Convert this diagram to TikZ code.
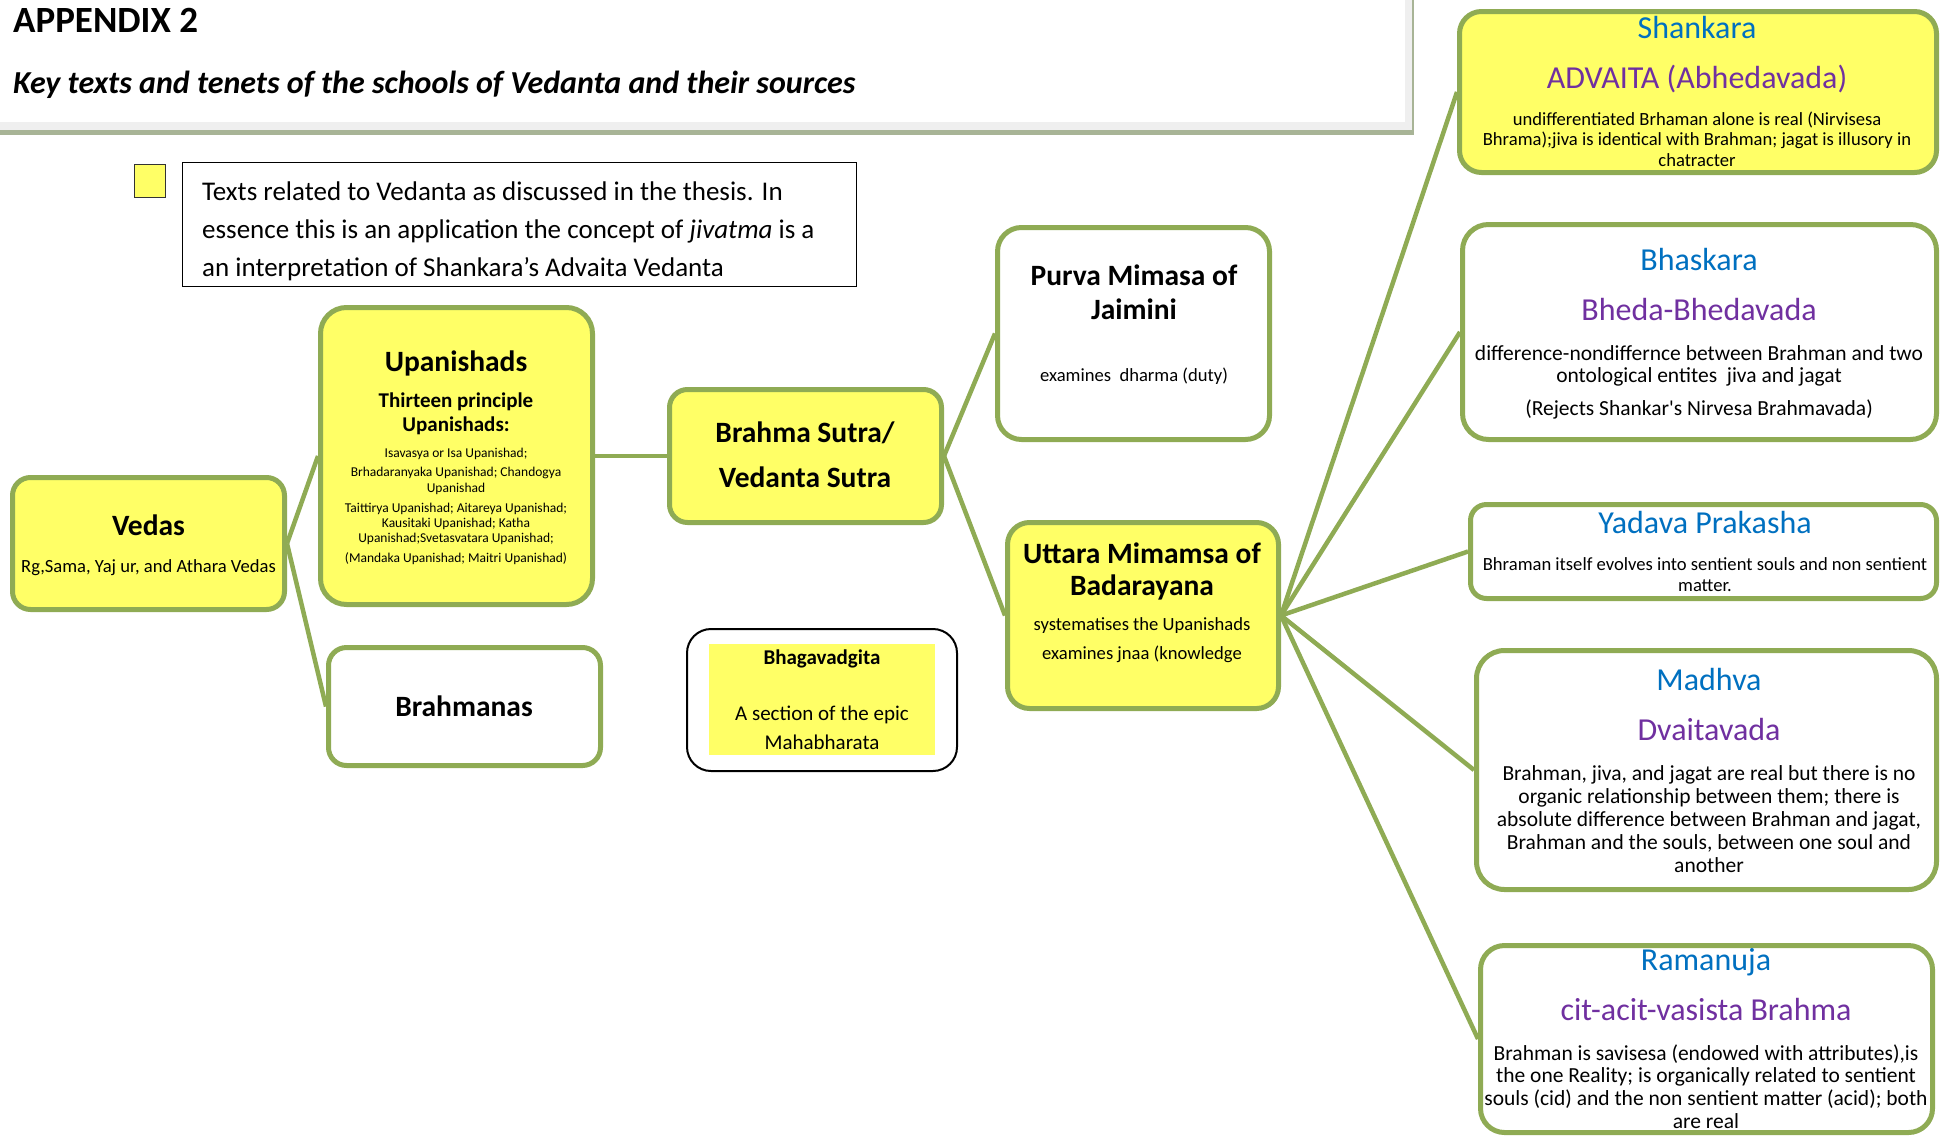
\documentclass[tikz,border=0pt]{standalone}
\usepackage{fontspec}
\setmainfont{Carlito}
\usetikzlibrary{backgrounds}
\definecolor{bgreen}{RGB}{143,171,84}
\definecolor{ylw}{RGB}{255,255,102}
\definecolor{tblue}{RGB}{0,112,192}
\definecolor{tpurple}{RGB}{112,48,160}
\definecolor{hlight}{RGB}{239,239,239}
\definecolor{hdark}{RGB}{168,180,150}
\newcommand{\setfs}[2]{\fontsize{#1}{#2}\selectfont}
\begin{document}
\begin{tikzpicture}[x=1pt,y=-1pt,
  gbox/.style={draw=bgreen,line width=5pt,rounded corners=18pt,inner sep=0pt},
  ybox/.style={gbox,fill=ylw},
  wbox/.style={gbox,fill=white},
  conn/.style={draw=bgreen,line width=4.5pt},
  txt/.style={inner sep=0pt,align=center,anchor=base},
  ttl/.style={txt,font=\setfs{29.5}{34}\bfseries},
  sub/.style={txt,font=\setfs{18.6}{29}},
  nm/.style={txt,font=\setfs{32}{36},text=tblue},
  sch/.style={txt,font=\setfs{32}{36},text=tpurple},
  bodyS/.style={txt,font=\setfs{18.6}{20.5}},
  bodyL/.style={txt,font=\setfs{21.5}{23}},
  small/.style={txt,font=\setfs{13.5}{15.5}},
]
\useasboundingbox (0,0) rectangle (1943,1138);

% header
\fill[hdark] (0,0) rectangle (1414,135);
\fill[hlight] (0,0) rectangle (1412,130);
\fill[white] (0,0) rectangle (1405,122);
\node[inner sep=0pt,anchor=base west,font=\setfs{37}{40}\bfseries] (appx) at (13,32) {APPENDIX 2};
\node[inner sep=0pt,anchor=base west,font=\setfs{32}{36}\bfseries\itshape] (ktitle) at (13,93) {Key texts and tenets of the schools of Vedanta and their sources};

% legend
\node[draw=black!80,line width=1.5pt,fill=ylw,minimum width=31pt,minimum height=33pt,inner sep=0pt] (lsq) at (150,181) {};
\node[draw=black,line width=1.8pt,minimum width=674pt,minimum height=124pt,inner sep=0pt] (lbox) at (519.5,224.5) {};
\begin{scope}
\clip (183,163) rectangle (856,283);
\node[inner sep=0pt,anchor=base west,align=left,font=\setfs{27}{38}] (ltext) at (202,276) {Texts related to Vedanta as discussed in the thesis. In\\essence this is an application the concept of \textit{jivatma} is a\\an interpretation of Shankara’s Advaita Vedanta};
\end{scope}

% boxes
\node[ybox,minimum width=272pt,minimum height=132pt] (vedas) at (148.5,543.5) {};
\node[ybox,minimum width=272pt,minimum height=297pt,rounded corners=26pt] (upan) at (456.5,456) {};
\node[wbox,minimum width=272pt,minimum height=118pt] (brah) at (464.5,706.5) {};
\node[ybox,minimum width=272pt,minimum height=133pt] (bsutra) at (805.5,456) {};
\node[draw=black,line width=2pt,rounded corners=24pt,minimum width=270pt,minimum height=142pt,inner sep=0pt] (bhagout) at (822,700) {};
\node[fill=ylw,minimum width=226pt,minimum height=111pt,inner sep=0pt] (bhagin) at (822,699.5) {};
\node[wbox,minimum width=272pt,minimum height=212pt,rounded corners=24pt] (purva) at (1133.5,333.5) {};
\node[ybox,minimum width=271pt,minimum height=186pt,rounded corners=22pt] (uttara) at (1143,615.5) {};
\node[ybox,minimum width=477pt,minimum height=161pt,rounded corners=22pt] (shank) at (1698,92) {};
\node[wbox,minimum width=474pt,minimum height=215pt,rounded corners=26pt] (bhask) at (1699.5,332) {};
\node[wbox,minimum width=466pt,minimum height=94pt,rounded corners=16pt] (yadava) at (1703.5,551.5) {};
\node[wbox,minimum width=460pt,minimum height=239pt,rounded corners=28pt] (madhva) at (1706.5,770) {};
\node[wbox,minimum width=452pt,minimum height=187pt,rounded corners=24pt] (raman) at (1706.5,1039) {};

% connectors behind boxes
\begin{scope}[on background layer]
\draw[conn] (vedas.east) -- (upan.west);
\draw[conn] (vedas.east) -- (brah.west);
\draw[conn] (upan.east) -- (bsutra.west);
\draw[conn] (bsutra.east) -- (purva.west);
\draw[conn] (bsutra.east) -- (uttara.west);
\draw[conn] (uttara.east) -- (shank.west);
\draw[conn] (uttara.east) -- (bhask.west);
\draw[conn] (uttara.east) -- (yadava.west);
\draw[conn] (uttara.east) -- (madhva.west);
\draw[conn] (uttara.east) -- (raman.west);
\end{scope}

% texts (anchor base = baseline of the last line)
\node[ttl] (t-vedas) at (148.5,535) {Vedas};
\node[sub] (s-vedas) at (148.5,572) {Rg,Sama, Yaj ur, and Athara Vedas};

\node[ttl] (t-upan) at (456,371) {Upanishads};
\node[txt,font=\setfs{21}{24}\bfseries] (s-upan) at (456,431) {Thirteen principle\\Upanishads:};
\node[small] (u1) at (456,457) {Isavasya or Isa Upanishad;};
\node[small] (u2) at (456,492) {Brhadaranyaka Upanishad; Chandogya\\Upanishad};
\node[small,font=\setfs{13.5}{15}] (u3) at (456,542) {Taittirya Upanishad; Aitareya Upanishad;\\Kausitaki Upanishad; Katha\\Upanishad;Svetasvatara Upanishad;};
\node[small] (u4) at (456,562) {(Mandaka Upanishad; Maitri Upanishad)};

\node[ttl] (t-brah) at (464,716) {Brahmanas};
\node[ttl,font=\setfs{29.5}{45}\bfseries] (t-bsutra) at (805,487) {Brahma Sutra/\\Vedanta Sutra};

\node[txt,font=\setfs{21}{22}\bfseries] (t-bhag) at (822,664) {Bhagavadgita};
\node[txt,font=\setfs{21}{29}] (s-bhag) at (822,749) {A section of the epic\\Mahabharata};

\node[ttl] (t-purva) at (1134,319) {Purva Mimasa of\\Jaimini};
\node[sub] (s-purva) at (1134,381) {examines\ \ dharma (duty)};

\node[ttl,font=\setfs{29.5}{32}\bfseries] (t-uttara) at (1142,595) {Uttara Mimamsa of\\Badarayana};
\node[sub] (s-uttara) at (1142,659) {systematises the Upanishads\\examines jnaa (knowledge};

\node[nm] (n-shank) at (1697,38) {Shankara};
\node[sch] (c-shank) at (1697,88) {ADVAITA (Abhedavada)};
\node[bodyS] (b-shank) at (1697,166) {undifferentiated Brhaman alone is real (Nirvisesa\\Bhrama);jiva is identical with Brahman; jagat is illusory in\\chatracter};

\node[nm] (n-bhask) at (1699,270) {Bhaskara};
\node[sch] (c-bhask) at (1699,320) {Bheda-Bhedavada};
\node[bodyL,font=\setfs{21.5}{22}] (b-bhask) at (1699,382) {difference-nondiffernce between Brahman and two\\ontological entites\ \ jiva and jagat};
\node[bodyL] (r-bhask) at (1699,415) {(Rejects Shankar\textquotesingle s Nirvesa Brahmavada)};

\node[nm] (n-yadava) at (1705,533) {Yadava Prakasha};
\node[bodyS,font=\setfs{18.6}{21}] (b-yadava) at (1705,591) {Bhraman itself evolves into sentient souls and non sentient\\matter.};

\node[nm] (n-madhva) at (1709,690) {Madhva};
\node[sch] (c-madhva) at (1709,740) {Dvaitavada};
\node[bodyL] (b-madhva) at (1709,872) {Brahman, jiva, and jagat are real but there is no\\organic relationship between them; there is\\absolute difference between Brahman and jagat,\\Brahman and the souls, between one soul and\\another};

\node[nm] (n-raman) at (1706,970) {Ramanuja};
\node[sch] (c-raman) at (1706,1020) {cit-acit-vasista Brahma};
\node[bodyL,font=\setfs{21.5}{22.6}] (b-raman) at (1706,1128) {Brahman is savisesa (endowed with attributes),is\\the one Reality; is organically related to sentient\\souls (cid) and the non sentient matter (acid); both\\are real};

\end{tikzpicture}
\end{document}
